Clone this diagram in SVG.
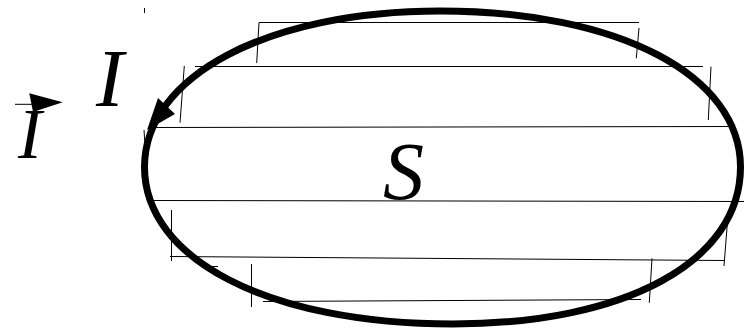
<svg xmlns="http://www.w3.org/2000/svg" width="744" height="330" viewBox="0 0 744 330">
<style>
.h{stroke:#000;stroke-width:1;fill:none}
.t{stroke:#000;stroke-width:1;fill:none}
</style>
<rect width="744" height="330" fill="#fff"/>
<g id="hatching">
<line class="h" x1="259" y1="22.5" x2="639" y2="22.5"/>
<line class="h" x1="195" y1="66.5" x2="703" y2="66.5"/>
<line class="h" x1="155" y1="127.5" x2="732" y2="126.5"/>
<line class="h" x1="153" y1="200.5" x2="744" y2="201.5"/>
<line class="h" x1="170" y1="256.5" x2="725" y2="260.5"/>
<line class="h" x1="263" y1="301.5" x2="641" y2="299.5"/>
<line class="t" x1="259" y1="22.5" x2="256.7" y2="63"/>
<line class="t" x1="639" y1="28" x2="636.3" y2="58.3"/>
<line class="t" x1="184.3" y1="66" x2="180" y2="122.7"/>
<line class="t" x1="711" y1="66.7" x2="708.3" y2="120"/>
<line class="t" x1="144" y1="130" x2="145" y2="145"/>
<line class="t" x1="171.5" y1="210" x2="171.5" y2="261"/>
<line class="t" x1="728" y1="215" x2="724" y2="266"/>
<line class="t" x1="251.5" y1="264" x2="251.5" y2="307"/>
<line class="t" x1="652" y1="258.3" x2="649.3" y2="302.7"/>
<line class="t" x1="209" y1="266.5" x2="218" y2="266.5"/>
<line class="t" x1="144.5" y1="8" x2="144.5" y2="13"/>
</g>
<g id="loop">
<path d="M440,11 C620,11 740.5,76 740.5,167 C740.5,262 625,324 453,324 C268,324 144.5,259 144.5,167 C144.5,76 268,11 440,11 Z" fill="none" stroke="#000" stroke-width="7"/>
<polygon points="147,130 158,98 175,114" fill="#000"/>
</g>
<g id="labels">
<text x="383" y="199" font-size="82" font-family="Liberation Serif" font-style="italic">S</text>
<text x="96" y="106" font-size="83" font-family="Liberation Serif" font-style="italic">I</text>
<text x="18" y="158" font-size="71" font-family="Liberation Serif" font-style="italic">I</text>
<line x1="15" y1="104.3" x2="34" y2="104.3" stroke="#000" stroke-width="1"/>
<polygon points="29.3,93.3 62.7,102.3 33,112" fill="#000"/>
</g>
</svg>
